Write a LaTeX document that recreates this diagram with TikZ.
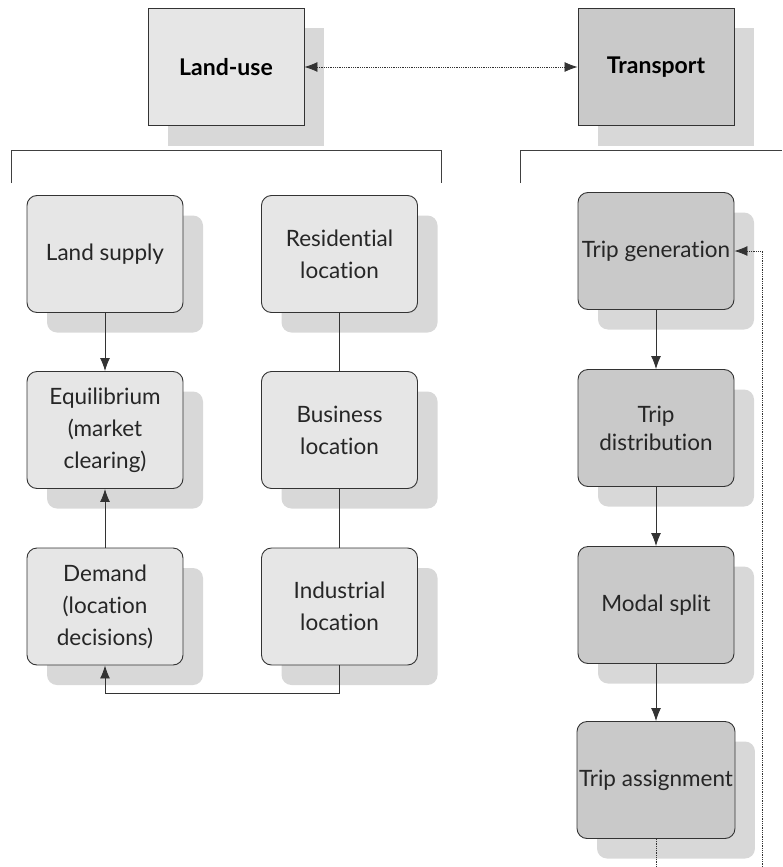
\documentclass[tikz,border=0pt]{standalone}
\usepackage{fontspec}
\setmainfont{Lato}[Ligatures=NoCommon]
\usetikzlibrary{shadows,arrows.meta}
\definecolor{lightfill}{HTML}{E6E6E6}
\definecolor{darkfill}{HTML}{C9C9C9}
\definecolor{shadowc}{HTML}{D8D8D8}
\definecolor{linec}{HTML}{333333}
\begin{document}
\begin{tikzpicture}[x=1pt,y=-1pt,
  boxbase/.style={draw=linec, line width=0.9pt, minimum width=156pt, minimum height=117pt,
     inner sep=2pt, align=center, text=black!85,
     font=\fontsize{22.5}{32}\selectfont,
     drop shadow={shadow xshift=20pt, shadow yshift=-20pt, fill=shadowc, opacity=1}},
  lubox/.style={boxbase, fill=lightfill, rounded corners=10pt},
  trbox/.style={boxbase, fill=darkfill, rounded corners=10pt},
  headbox/.style={boxbase, font=\fontsize{23}{31}\selectfont\bfseries, text=black},
  conn/.style={draw=linec, line width=0.9pt},
  arr/.style={conn, -{Latex[length=13pt,width=10pt]}},
  dotarr/.style={draw=linec, line width=0.8pt, densely dotted},
]
\useasboundingbox (0,0) rectangle (782,867);

% header boxes
\node[headbox, fill=lightfill] (lu) at (226,67) {Land-use};
\node[headbox, fill=darkfill] (tr) at (656,67) {Transport};
\draw[dotarr, {Latex[length=13pt,width=10pt]}-{Latex[length=13pt,width=10pt]}] (lu.east) -- (tr.west);

% brackets
\coordinate (bla) at (11,183);
\coordinate (blb) at (11,150);
\coordinate (blc) at (441,183);
\draw[conn, draw=black!75] (bla) -- (blb) -| (blc);
\coordinate (bra) at (520,183);
\coordinate (brb) at (520,150);
\coordinate (brc) at (782,150);
\draw[conn, draw=black!75] (bra) -- (brb) -- (brc);

% land-use column
\node[lubox] (ls)  at (105,254)   {Land supply};
\node[lubox] (eq)  at (105,430)   {Equilibrium\\(market\\clearing)};
\node[lubox] (dem) at (105,606.5) {Demand\\(location\\decisions)};
\node[lubox] (res) at (339.5,254)   {Residential\\location};
\node[lubox] (bus) at (339.5,430)   {Business\\location};
\node[lubox] (ind) at (339.5,606.5) {Industrial\\location};

\draw[arr] (ls.south) -- (eq.north);
\draw[arr] (dem.north) -- (eq.south);
\draw[conn] (res.south) -- (bus.north);
\draw[conn] (bus.south) -- (ind.north);
\draw[arr] (ind.south) -- ++(0,28) -| (dem.south);

% transport column
\node[trbox] (tg) at (656,251) {Trip generation};
\node[trbox] (td) at (656,428) {Trip\\[-4pt]distribution};
\node[trbox] (ms) at (656,605) {Modal split};
\node[trbox] (ta) at (656,780) {Trip assignment};

\draw[arr] (tg.south) -- (td.north);
\draw[arr] (td.south) -- (ms.north);
\draw[arr] (ms.south) -- (ta.north);

\coordinate (tabot) at (656,867);
\coordinate (fbbot) at (762,867);
\draw[dotarr] (ta.south) -- (tabot);
\draw[dotarr, -{Latex[length=13pt,width=10pt]}] (fbbot) |- (tg.east);
\end{tikzpicture}
\end{document}
